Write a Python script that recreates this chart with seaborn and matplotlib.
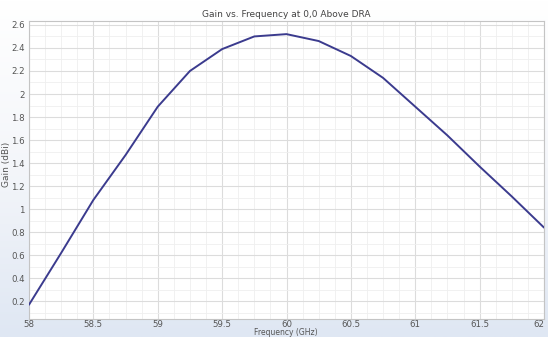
import numpy as np
import pandas as pd
import matplotlib
matplotlib.use("Agg")
import matplotlib.pyplot as plt
from matplotlib.ticker import MultipleLocator, FuncFormatter
from matplotlib.colors import LinearSegmentedColormap
import seaborn as sns

freq_ghz = [58.0, 58.25, 58.5, 58.75, 59.0, 59.25, 59.5, 59.75, 60.0,
            60.25, 60.5, 60.75, 61.0, 61.25, 61.5, 61.75, 62.0]
gain_dbi = [0.17, 0.62, 1.08, 1.47, 1.89, 2.20, 2.39, 2.50, 2.52,
            2.46, 2.33, 2.14, 1.89, 1.64, 1.37, 1.11, 0.84]
x_ticks = [58, 58.5, 59, 59.5, 60, 60.5, 61, 61.5, 62]
y_ticks = [0.2, 0.4, 0.6, 0.8, 1.0, 1.2, 1.4, 1.6, 1.8, 2.0, 2.2, 2.4, 2.6]

df = pd.DataFrame({"Frequency (GHz)": freq_ghz, "Gain (dBi)": gain_dbi})

sns.set_theme(style="white")
plt.rcParams['font.family'] = ['DejaVu Sans']

fig = plt.figure(figsize=(5.48, 3.37), dpi=100)

# background gradient
bg = fig.add_axes([0, 0, 1, 1], zorder=-10)
grad = np.linspace(0, 1, 256).reshape(-1, 1)
cmap = LinearSegmentedColormap.from_list("bg", ["#dfe7f3", "#f4f6fa", "#ffffff"])
bg.imshow(grad, aspect="auto", cmap=cmap, origin="lower", extent=[0, 1, 0, 1])
bg.set_axis_off()

ax = fig.add_axes([29/548, 18/337, (544-29)/548, (319-21)/337])
ax.set_facecolor("white")

sns.lineplot(data=df, x="Frequency (GHz)", y="Gain (dBi)", ax=ax,
             color="#3b3b8e", linewidth=1.4, zorder=3)

ax.set_xlim(58, 62)
ax.set_ylim(0.046, 2.634)
ax.set_xticks(x_ticks)
ax.set_yticks(y_ticks)
ax.xaxis.set_minor_locator(MultipleLocator(0.125))
ax.yaxis.set_minor_locator(MultipleLocator(0.1))

def fmt(v, pos):
    s = ("%.2f" % v).rstrip("0").rstrip(".")
    return s
ax.xaxis.set_major_formatter(FuncFormatter(fmt))
ax.yaxis.set_major_formatter(FuncFormatter(fmt))

ax.grid(which="major", color="#dcdcdc", linewidth=0.8)
ax.grid(which="minor", color="#efefef", linewidth=0.6)
ax.set_axisbelow(True)

for s in ax.spines.values():
    s.set_color("#c4c4c4")
    s.set_linewidth(0.8)

ax.tick_params(axis="both", which="both", length=0, labelsize=6.2,
               labelcolor="#555555")
ax.tick_params(axis="x", pad=1)
ax.tick_params(axis="y", pad=3)
fig.canvas.draw()
labels = ax.get_xticklabels()
labels[-1].set_horizontalalignment("right")

ax.set_title("Gain vs. Frequency at 0,0 Above DRA", fontsize=6.5,
             color="#444444", pad=3)
ax.set_xlabel("")
fig.text(286/548, 0.0, "Frequency (GHz)", fontsize=5.5, color="#555555",
         ha="center", va="bottom")
ax.set_ylabel("Gain (dBi)", fontsize=6.5, color="#555555", labelpad=1)
ax.yaxis.set_label_coords(-0.035, 0.52)

fig.savefig("out.png", dpi=100)
